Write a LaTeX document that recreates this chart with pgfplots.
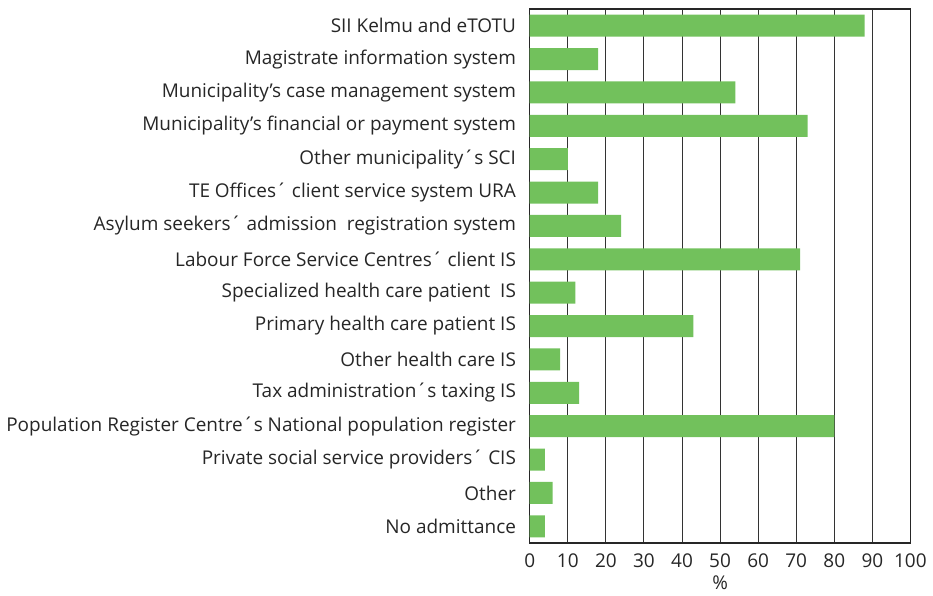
\documentclass[border=0pt]{standalone}
\usepackage{pgfplots}
\pgfplotsset{compat=1.18}
\usepackage{fontspec}
\setmainfont{Open Sans}
\definecolor{barg}{HTML}{72C15C}
\begin{document}
\fontsize{19}{22}\selectfont
\begin{tikzpicture}
\begin{axis}[
  xbar,
  width=380bp, height=533bp, scale only axis,
  xmin=0, xmax=100, ymin=-0.5, ymax=15.5, y dir=reverse,
  bar width=22bp,
  xtick={0,10,...,100},
  xmajorgrids, major grid style={black!80, line width=0.9pt},
  ytick={0,...,15},
  yticklabels={
    SII Kelmu and eTOTU,
    Magistrate information system,
    Municipality’s case management system,
    Municipality’s financial or payment system,
    Other municipality´s SCI,
    TE Offices´ client service system URA,
    Asylum seekers´ admission\ \ registration system,
    Labour Force Service Centres´ client IS,
    Specialized health care patient\ \ IS,
    Primary health care patient IS,
    Other health care IS,
    Tax administration´s taxing IS,
    Population Register Centre´s National population register,
    Private social service providers´ CIS,
    Other,
    No admittance},
  tick style={draw=none},
  xlabel={\%},
  xlabel style={yshift=5bp},
  yticklabel style={xshift=-3bp},
  xticklabel style={yshift=-4bp},
  axis line style={black!85, line width=1.1pt},
  /pgf/number format/assume math mode=true,
  tick label style={font=\fontsize{19}{22}\selectfont, text=black!85},
  label style={font=\fontsize{19}{22}\selectfont, text=black!85},
]
\addplot[fill=barg, draw=none] coordinates {
  (88,0) (18,1) (54,2) (73,3) (10,4) (18,5) (24,6) (71,7)
  (12,8) (43,9) (8,10) (13,11) (80,12) (4,13) (6,14) (4,15)};
\end{axis}
\path (current axis.north west) -- ++(0,9bp);
\end{tikzpicture}
\end{document}
